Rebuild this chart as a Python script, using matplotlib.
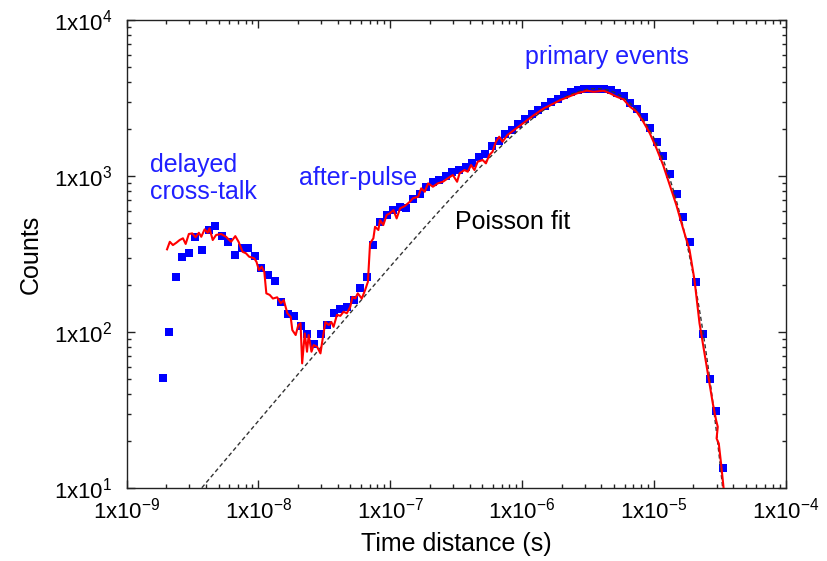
import numpy as np
import matplotlib
matplotlib.use("Agg")
import matplotlib.pyplot as plt
from matplotlib.ticker import FixedLocator, FuncFormatter, NullFormatter

plt.rcParams["font.family"] = "Liberation Sans"
plt.rcParams["mathtext.fontset"] = "custom"
plt.rcParams["mathtext.rm"] = "Liberation Sans"
plt.rcParams["mathtext.default"] = "regular"
plt.rcParams["axes.unicode_minus"] = False

# measured histogram, log bins (time in ns)
bin_time_ns = [1.88, 2.10, 2.36, 2.65, 2.97, 3.33, 3.74, 4.20, 4.71, 5.28,
               5.93, 6.65, 7.46, 8.37, 9.39, 10.5, 11.8, 13.3, 14.9, 16.7,
               18.8, 21.0, 23.6, 26.5, 29.7, 33.3, 37.4, 42.0, 47.1, 52.8,
               59.3, 66.5, 74.6, 83.7, 93.9, 105, 118, 133, 149, 167,
               188, 210, 236, 265, 297, 333, 374, 420, 471, 528,
               593, 665, 746, 837, 939, 1054, 1183, 1330, 1490, 1670,
               1875, 2100, 2360, 2650, 2970, 3330, 3740, 4200, 4710, 5280,
               5930, 6650, 7460, 8370, 9390, 10540, 11830, 13300, 14900, 16700,
               18750, 21000, 23600, 26500, 29700, 33300]
bin_counts = [51, 99.5, 226, 301, 321, 408, 334, 451, 476, 412,
              379, 310, 345, 348, 307, 256, 232, 211, 156, 130,
              126, 109, 97.7, 84.3, 96.7, 111, 133, 140, 145, 161,
              193, 226, 361, 509, 562, 605, 633, 620, 712, 767,
              850, 915, 942, 1000, 1061, 1092, 1142, 1211, 1324, 1384,
              1556, 1675, 1858, 1972, 2155, 2318, 2496, 2648, 2811, 2981,
              3116, 3306, 3455, 3557, 3611, 3611, 3611, 3640, 3557, 3420,
              3258, 2938, 2689, 2388, 2031, 1651, 1343, 1030, 767, 546,
              378, 209, 97, 50, 31.2, 13.5]

# red curve (time in ns)
line_time_ns = [2.03, 2.13, 2.25, 2.39, 2.53, 2.68, 2.81, 2.97, 3.15, 3.34,
                3.54, 3.69, 3.91, 4.13, 4.26, 4.51, 4.78, 5.22, 5.69, 6.21,
                6.69, 7.08, 7.59, 8.05, 8.52, 9.30, 9.68, 10.1, 10.6, 11.1,
                11.5, 12.2, 12.9, 13.9, 14.8, 15.6, 16.6, 17.6, 18.1, 19.2,
                20.1, 20.9, 21.5, 22.5, 23.4, 24.1, 25.3, 26.3, 27.9, 29.6,
                30.8, 32.3, 34.2, 35.8, 37.2, 39.5, 41.9, 44.3, 46.9, 49.8,
                51.8, 54.3, 56.8, 60.9, 64.6, 67.8, 70.4, 74.6, 76.8, 81.4,
                83.8, 88.7, 94.0, 99.7, 106, 112, 119, 129, 141, 149,
                163, 172, 183, 194, 211, 230, 251, 274, 299, 322,
                336, 366, 388, 411, 436, 461, 503, 533, 565, 598,
                634, 672, 712, 776, 978, 1234, 1467, 1957, 2616, 3111,
                3494, 4156, 4661, 5235, 5882, 6595, 7406, 8321, 9330, 10480,
                11770, 13200, 14830, 16660, 18680, 20370, 22220, 24960, 28030, 29680,
                30570, 29950, 31120, 32370, 34110]
line_counts = [339, 379, 361, 374, 389, 399, 367, 425, 429, 405,
               433, 408, 455, 433, 462, 389, 419, 425, 408, 379,
               412, 379, 327, 320, 304, 297, 282, 250, 262, 243,
               177, 173, 164, 167, 153, 160, 132, 125, 103, 95.7,
               111, 114, 63, 98, 74.8, 95.7, 74.8, 82.5, 80.5, 73,
               91.1, 116, 111, 116, 108, 129, 127, 135, 132, 145,
               168, 164, 177, 164, 186, 210, 370, 399, 473, 451,
               522, 485, 562, 577, 605, 535, 621, 642, 684, 720,
               737, 834, 793, 898, 854, 898, 919, 967, 1015, 919,
               1040, 1093, 1066, 1176, 1093, 1235, 1267, 1206, 1363, 1431,
               1660, 1786, 1660, 1832, 2123, 2460, 2716, 3070, 3388, 3523,
               3466, 3523, 3388, 3223, 3102, 2782, 2583, 2229, 1878, 1505,
               1176, 876, 652, 462, 335, 215, 114, 63, 34.9, 27.3,
               24.7, 20.8, 19.3, 14.4, 9.4]

# Poisson fit: N(t) = A * t * exp(-t / tau)
fit_amp = 2.7e9
fit_tau = 3.66e-6

x_decades = [-9, -8, -7, -6, -5, -4]
y_decades = [1, 2, 3, 4]

bin_t = np.array(bin_time_ns) * 1e-9
line_t = np.array(line_time_ns) * 1e-9
fit_t = np.logspace(-9, -4, 500)
fit_n = fit_amp * fit_t * np.exp(-fit_t / fit_tau)

fig = plt.figure(figsize=(8.28, 5.61), dpi=100)
ax = fig.add_axes([0.1528, 0.130, 0.7960, 0.8343])

ax.plot(bin_t, bin_counts, "s", color="#0000ff", markersize=5.2,
        markeredgewidth=0, zorder=2)
ax.plot(fit_t, fit_n, color="#333333", lw=1.0, linestyle=(0, (3, 2)), zorder=3)
ax.plot(line_t, line_counts, color="#ff0000", lw=1.5, zorder=4)

ax.set_xscale("log")
ax.set_yscale("log")
ax.set_xlim(1e-9, 1e-4)
ax.set_ylim(10, 1e4)


def minor_ticks(decades):
    return [m * 10.0 ** d for d in decades[:-1] for m in range(2, 10)]


fmt = FuncFormatter(lambda v, _: r"1x10$^{%d}$" % int(round(np.log10(v))))
for axis, dec in ((ax.xaxis, x_decades), (ax.yaxis, y_decades)):
    axis.set_major_locator(FixedLocator([10.0 ** d for d in dec]))
    axis.set_minor_locator(FixedLocator(minor_ticks(dec)))
    axis.set_major_formatter(fmt)
    axis.set_minor_formatter(NullFormatter())

ax.tick_params(which="both", direction="in", top=True, right=True,
               color="#222222", width=1.0)
ax.tick_params(which="major", length=5.5, labelsize=16)
ax.tick_params(which="minor", length=3)
ax.tick_params(axis="y", pad=10)
ax.tick_params(axis="x", pad=7)
for s in ax.spines.values():
    s.set_linewidth(1.0)
    s.set_color("#222222")

ax.set_xlabel("Time distance (s)", fontsize=18, labelpad=6)
ax.set_ylabel("Counts", fontsize=18, labelpad=8)

ax.text(0.0354, 0.662, "delayed\ncross-talk", transform=ax.transAxes,
        color="#2020ff", fontsize=18, ha="left", va="center", linespacing=1.15)
ax.text(0.2615, 0.662, "after-pulse", transform=ax.transAxes,
        color="#2020ff", fontsize=18, ha="left", va="center")
ax.text(0.604, 0.921, "primary events", transform=ax.transAxes,
        color="#2020ff", fontsize=18, ha="left", va="center")
ax.text(0.4977, 0.568, "Poisson fit", transform=ax.transAxes,
        color="black", fontsize=18, ha="left", va="center")

fig.savefig("out.png", dpi=100)
